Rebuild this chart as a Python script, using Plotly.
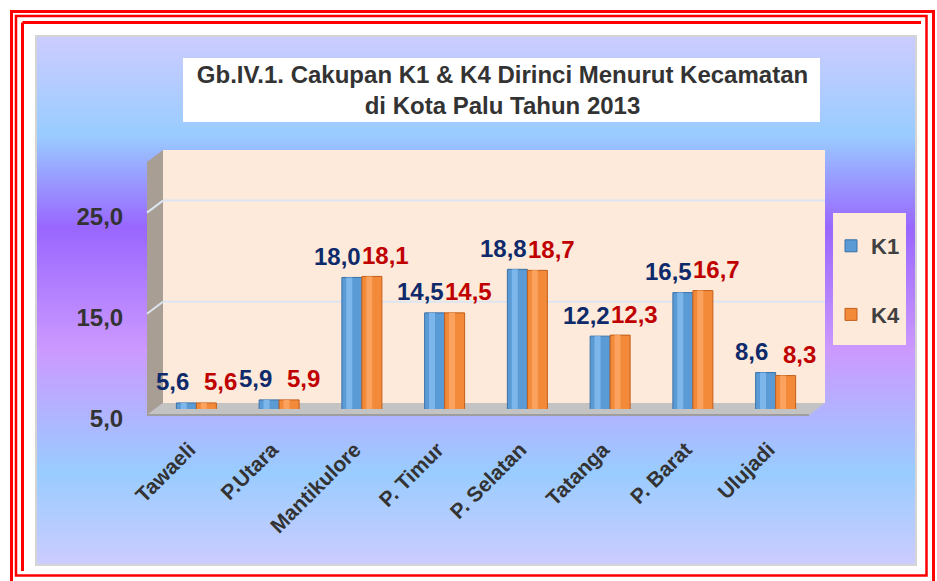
import plotly.graph_objects as go

# ---------------- data ----------------
categories = ["Tawaeli", "P.Utara", "Mantikulore", "P. Timur", "P. Selatan", "Tatanga", "P. Barat", "Ulujadi"]
k1_values = [5.6, 5.9, 18.0, 14.5, 18.8, 12.2, 16.5, 8.6]
k4_values = [5.6, 5.9, 18.1, 14.5, 18.7, 12.3, 16.7, 8.3]
series_names = ["K1", "K4"]
y_tick_values = [5, 15, 25]
y_tick_labels = ["5,0", "15,0", "25,0"]
title_lines = ["Gb.IV.1. Cakupan K1 & K4 Dirinci Menurut Kecamatan", "di Kota Palu Tahun 2013"]

# ---------------- geometry (pixels) ----------------
W, H = 937, 581
PL, PR = 155, 817          # plot area (middle depth plane)
PT, PB = 156, 409
YMIN, YMAX = 5, 30
DX, DY = 8, 6              # depth offset (half)

def px_x(px):
    return (px - PL) / (PR - PL)

def px_y(py):
    return (PB - py) / (PB - PT)

def val_py(v):
    return PB - (v - YMIN) * (PB - PT) / (YMAX - YMIN)

shapes = []

def rect(x0, y0, x1, y1, fill=None, line=None, lw=0):
    shapes.append(dict(type="rect", xref="paper", yref="paper",
                       x0=px_x(x0), x1=px_x(x1), y0=px_y(y0), y1=px_y(y1),
                       fillcolor=fill if fill else "rgba(0,0,0,0)",
                       line=dict(color=line if line else "rgba(0,0,0,0)", width=lw),
                       layer="below"))

def poly(pts, fill, line=None, lw=0):
    path = "M " + " L ".join(f"{px_x(a):.5f},{px_y(b):.5f}" for a, b in pts) + " Z"
    shapes.append(dict(type="path", xref="paper", yref="paper", path=path,
                       fillcolor=fill, line=dict(color=line if line else "rgba(0,0,0,0)", width=lw),
                       layer="below"))

def seg(x0, y0, x1, y1, color, lw):
    shapes.append(dict(type="line", xref="paper", yref="paper",
                       x0=px_x(x0), x1=px_x(x1), y0=px_y(y0), y1=px_y(y1),
                       line=dict(color=color, width=lw), layer="below"))

# red frame
RED = "#FF0000"
rect(11.5, 11.5, 933.5, 620, line=RED, lw=3)
rect(16, 16, 926.5, 575.5, line=RED, lw=2.5)
seg(22.5, 22.5, 22.5, 571, RED, 3)
seg(22.5, 22.5, 921, 22.5, RED, 3)

# gradient panel
stops = [(37, (0xCC, 0xCC, 0xFF)), (135, (0x99, 0xCC, 0xFF)), (228, (0x99, 0x66, 0xFF)),
         (350, (0xCC, 0x99, 0xFF)), (472, (0x99, 0xCC, 0xFF)), (564, (0xCC, 0xCC, 0xFF))]

def grad_color(y):
    for (ya, ca), (yb, cb) in zip(stops[:-1], stops[1:]):
        if ya <= y <= yb:
            t = (y - ya) / (yb - ya)
            c = [round(ca[i] + (cb[i] - ca[i]) * t) for i in range(3)]
            return f"rgb({c[0]},{c[1]},{c[2]})"
    return "rgb(204,204,255)"

y = 37
step = 2
while y < 564:
    y2 = min(y + step, 564)
    rect(37, y, 915, y2 + 0.6, fill=grad_color(y + step / 2))
    y = y2
rect(36, 36, 916, 565, line="#D4D4D4", lw=2)

# title box
rect(183, 58, 820, 122, fill="#FFFFFF")

# 3D walls
back_l, back_r = PL + DX, PR + DX
back_t, back_b = val_py(YMAX) - DY, val_py(YMIN) - DY
front_l, front_r = PL - DX, PR - DX
front_b = val_py(YMIN) + DY
rect(back_l, back_t, back_r, back_b, fill="#FDEADA")
poly([(front_l, back_t + 2 * DY), (back_l, back_t), (back_l, back_b), (front_l, front_b)], fill="#A89E94")
poly([(front_l, front_b), (back_l, back_b), (back_r, back_b), (front_r, front_b)], fill="#C3C3C3")
seg(front_l, front_b, front_r, front_b, "#9E9E9E", 2)

# gridlines on back wall and left wall
for v in y_tick_values[1:]:
    gy = val_py(v)
    seg(back_l, gy - DY, back_r, gy - DY, "#DCE6F2", 2)
    seg(front_l, gy + DY, back_l, gy - DY, "#DCE6F2", 2)

# legend box
rect(833, 213, 906, 345, fill="#FDEADA")

# ---------------- traces ----------------
fig = go.Figure()
cat_px = (PR - PL) / len(categories)
bar_w = 20 / cat_px
bar_colors = ["#5B9BD5", "#F28A3A"]
bar_lines = ["#3A70A8", "#C25E1C"]
hi_colors = ["#7DB6EA", "#FBA35E"]
offsets = [-bar_w, 0.0]
for name, vals, col, lc, hc, off in zip(series_names, [k1_values, k4_values], bar_colors,
                                        bar_lines, hi_colors, offsets):
    fig.add_trace(go.Bar(name=name, x=categories, y=vals, width=bar_w, offset=off,
                         marker=dict(color=col, line=dict(color=lc, width=1)),
                         legendgroup=name, hoverinfo="x+y"))
    # cylinder highlight stripe
    fig.add_trace(go.Bar(name=name, x=categories, y=vals, width=bar_w * 0.3, offset=off + bar_w * 0.22,
                         marker=dict(color=hc, line=dict(width=0)),
                         legendgroup=name, showlegend=False, hoverinfo="skip"))

# value labels
annotations = []
label_colors = ["#0F2A6B", "#C00000"]
for vals, col, xs in zip([k1_values, k4_values], label_colors, [-24, 24]):
    for c, v in zip(categories, vals):
        annotations.append(dict(x=c, y=v, xref="x", yref="y", text=f"<b>{v:.1f}</b>".replace(".", ","),
                                showarrow=False, xshift=xs, yshift=21, yanchor="middle",
                                font=dict(family="Liberation Sans, Arial", size=24, color=col)))

FONT = "Liberation Sans, Arial, sans-serif"

fig.update_layout(
    width=W, height=H, autosize=False,
    margin=dict(l=PL, r=W - PR, t=PT, b=H - PB, pad=0, autoexpand=False),
    paper_bgcolor="#FFFFFF", plot_bgcolor="rgba(0,0,0,0)",
    barmode="overlay",
    title=dict(text="<b>" + "<br>".join(title_lines) + "</b>", x=502.5 / W, xanchor="center",
               y=1 - 83 / H, yanchor="middle", yref="container",
               font=dict(family=FONT, size=24, color="#333333")),
    xaxis=dict(type="category", categoryorder="array", categoryarray=categories,
               range=[-0.5, len(categories) - 0.5], showgrid=False, zeroline=False, showline=False,
               ticks="outside", ticklen=19, tickcolor="rgba(0,0,0,0)", tickangle=-45,
               ticklabelshift=-7,
               tickfont=dict(family=FONT, size=21, color="#333333", weight="bold")),
    yaxis=dict(range=[YMIN, YMAX], showgrid=False, zeroline=False, showline=False,
               tickvals=y_tick_values, ticktext=y_tick_labels,
               ticks="outside", ticklen=26, tickcolor="rgba(0,0,0,0)", ticklabelshift=10,
               tickfont=dict(family=FONT, size=24, color="#333333", weight="bold")),
    legend=dict(x=px_x(831), y=px_y(225), xanchor="left", yanchor="top", bgcolor="rgba(0,0,0,0)",
                font=dict(family=FONT, size=22, color="#404040", weight="bold"),
                tracegroupgap=37, traceorder="grouped"),
    shapes=shapes, annotations=annotations, showlegend=True,
)

fig.write_html("out.html", config={"displayModeBar": False},
               post_script="document.body.style.margin='0';")
